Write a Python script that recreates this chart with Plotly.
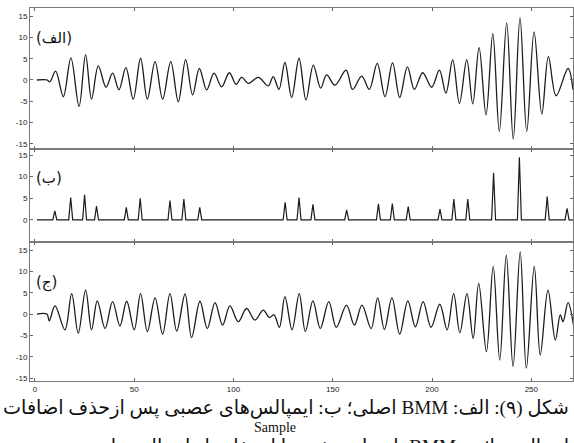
import plotly.graph_objects as go

# ---------------- data ----------------
# panel (الف): original BMM signal, extreme points (sample, value)
orig_x = [1, 6, 7.5, 10.4, 14.3, 18.1, 22.2, 25.5, 28.5, 31.9, 35.8, 39.1, 42.3, 45.8,
          49.5, 53.2, 56.6, 60.5, 64.3, 68.4, 72.2, 75.9, 79.4, 82.8, 86.5, 90.2, 94.0,
          97.9, 101.3, 104.1, 107.5, 112.5, 117.5, 120.0, 122.9, 125.9, 129.3, 133.0,
          136.5, 140.2, 143.9, 146.9, 151.1, 156.7, 160.0, 164.6, 168.4, 172.4, 176.3,
          180.1, 183.7, 187.6, 191.1, 195.3, 199.8, 203.7, 207.0, 210.4, 213.8, 217.5,
          220.5, 223.7, 227.2, 230.6, 233.9, 237.6, 240.9, 244.3, 247.7, 251.4, 255.3,
          258.6, 262.5, 268.5, 271.0]
orig_y = [0, 0, -0.4, 2.1, -3.9, 5.2, -6.2, 5.9, -4.5, 3.3, -1.7, 1.6, -2.3, 2.9,
          -4.5, 5.1, -4.5, 4.3, -4.5, 4.3, -5.1, 4.8, -3.5, 2.7, -2.3, 1.6, -1.6,
          1.7, -1.0, 0.6, -0.8, 0.6, -1.4, 0.8, -2.2, 4.1, -4.1, 5.1,
          -4.7, 3.5, -1.9, 1.2, -1.2, 2.3, -2.2, 0.9, -2.2, 3.9, -3.9,
          4.0, -4.1, 3.1, -2.2, 1.7, -1.7, 2.3, -3.1, 4.7, -5.5, 4.8,
          -5.6, 7.6, -8.2, 10.9, -12.1, 13.4, -13.9, 14.6, -12.1, 11.3, -8.0,
          5.5, -3.7, 2.7, -2.3]

# panel (ب): neural impulses (sample index, height)
spike_pos = [10, 18, 25, 31, 46, 53, 68, 75, 83, 126, 133, 140, 157, 173, 180, 188,
             204, 211, 218, 231, 244, 258, 268]
spike_val = [2.1, 5.2, 5.8, 3.2, 2.9, 5.0, 4.5, 4.8, 2.9, 4.1, 5.2, 3.6, 2.3, 3.7, 3.8,
             3.1, 2.5, 4.8, 4.8, 10.9, 14.5, 5.4, 2.7]
n_samples = 271

# panel (ج): reconstructed BMM, extreme points (sample, value)
rec_x = [1, 6, 7.2, 10.1, 15.1, 18.5, 21.8, 25.5, 28.5, 31.4, 35.3, 39.1, 42.8, 46.2,
         50.0, 53.2, 56.6, 60.5, 64.3, 68.0, 71.4, 75.6, 78.9, 83.1, 86.8, 90.7, 94.5,
         98.2, 102.4, 106.6, 110.8, 115.0, 118.0, 120.4, 123.1, 125.9, 129.5, 133.1,
         136.2, 140.0, 143.7, 148.0, 151.8, 156.9, 160.9, 164.7, 169.3, 172.6, 176.0,
         179.8, 183.7, 187.8, 191.6, 195.5, 199.5, 203.9, 207.6, 210.9, 214.0, 217.6,
         220.7, 223.5, 227.4, 230.8, 234.1, 237.4, 240.8, 244.4, 247.5, 251.5, 254.5,
         258.4, 262.1, 264.6, 266.0, 268.5, 271.4]
rec_y = [0, 0, -1.6, 1.9, -3.7, 4.8, -4.5, 5.6, -3.7, 3.1, -3.4, 2.9, -2.8, 3.0,
         -3.7, 4.8, -4.1, 3.8, -4.7, 4.8, -4.0, 4.7, -5.5, 3.0, -3.4, 2.7, -2.6,
         1.9, -1.8, 1.3, -1.4, 0.9, -0.8, -0.2, -3.1, 4.1, -3.7, 4.8,
         -4.1, 3.1, -3.4, 2.9, -3.1, 2.1, -2.6, 2.1, -3.4, 3.8, -3.6,
         3.8, -4.7, 3.1, -3.0, 2.9, -3.1, 2.3, -3.7, 4.8, -4.4, 4.8,
         -5.7, 7.2, -8.8, 11.2, -10.8, 13.8, -12.3, 14.6, -12.7, 11.2, -9.6,
         5.6, -6.1, -0.2, -1.8, 2.7, -3.0]

y_ticks = [-15, -10, -5, 0, 5, 10, 15]
y_ticktext = ["-15", "-10", "-5", "0", "5", "10", "15"]
y2_ticks = [0, 5, 10, 15]
y2_ticktext = ["0", "5", "10", "15"]
x_ticks = [0, 50, 100, 150, 200, 250]
x_ticktext = ["0", "50", "100", "150", "200", "250"]

panel_labels = ["(الف)", "(ب)", "(ج)"]
x_title = "Sample"
caption_1 = "شکل (۹): الف: BMM اصلی؛ ب: ایمپالس‌های عصبی پس ازحذف اضافات"
caption_2 = "ایمپالس‌ها؛ ج: BMM بازسازی شده با استفاده از ایمپالس‌های عصبی"

RLE, PDF = "\u202B", "\u202C"  # right-to-left embedding for Persian captions

# ---------------- build ----------------
n = list(range(1, n_samples + 1))
impulses = [0.0] * n_samples
for p, v in zip(spike_pos, spike_val):
    impulses[p - 1] = v

line_col = "#1c1c1c"
fig = go.Figure()
fig.add_trace(go.Scatter(x=orig_x, y=orig_y, mode="lines", xaxis="x", yaxis="y",
                         line=dict(color=line_col, width=1.3, shape="spline", smoothing=1.0),
                         showlegend=False, hoverinfo="skip"))
fig.add_trace(go.Scatter(x=n, y=impulses, mode="lines", xaxis="x2", yaxis="y2",
                         line=dict(color=line_col, width=1.2),
                         showlegend=False, hoverinfo="skip"))
fig.add_trace(go.Scatter(x=rec_x, y=rec_y, mode="lines", xaxis="x3", yaxis="y3",
                         line=dict(color=line_col, width=1.3, shape="spline", smoothing=1.0),
                         showlegend=False, hoverinfo="skip"))

axis_common = dict(showline=True, linecolor="#7a7a7a", linewidth=1, mirror="ticks",
                   ticks="inside", ticklen=3, tickcolor="#666", tickwidth=1,
                   showgrid=False, zeroline=False,
                   tickfont=dict(family="Liberation Sans, Arial", size=8, color="#222"))

xr = [-2.5, 271]
fig.update_layout(
    width=574, height=443,
    margin=dict(l=30, r=1, t=8, b=62),
    paper_bgcolor="white", plot_bgcolor="white",
    xaxis=dict(domain=[0, 1], range=xr, anchor="y", tickvals=x_ticks,
               showticklabels=False, **axis_common),
    xaxis2=dict(domain=[0, 1], range=xr, anchor="y2", tickvals=x_ticks,
                showticklabels=False, **axis_common),
    xaxis3=dict(domain=[0, 1], range=xr, anchor="y3", tickvals=x_ticks,
                ticktext=x_ticktext, showticklabels=True, **axis_common),
    yaxis=dict(domain=[0.622, 1], range=[-16.2, 16.9], anchor="x",
               tickvals=y_ticks, ticktext=y_ticktext, **axis_common),
    yaxis2=dict(domain=[0.3727, 0.622], range=[-5.1, 16.4], anchor="x2",
                tickvals=y2_ticks, ticktext=y2_ticktext, **axis_common),
    yaxis3=dict(domain=[0, 0.3727], range=[-15.7, 16.9], anchor="x3",
                tickvals=y_ticks, ticktext=y_ticktext, **axis_common),
)

label_pos = [("x", "y", 0.787), ("x2", "y2", 0.688), ("x3", "y3", 0.712)]
for txt, (xa, ya, yy) in zip(panel_labels, label_pos):
    fig.add_annotation(text=txt, xref=xa + " domain", yref=ya + " domain",
                       x=0.008, y=yy, xanchor="left", yanchor="middle", showarrow=False,
                       font=dict(family="DejaVu Sans", size=15, color="#111"))

fig.add_annotation(text=x_title, xref="paper", yref="paper", x=0.451, y=-0.124,
                   xanchor="center", yanchor="middle", showarrow=False,
                   font=dict(family="Liberation Serif", size=14, color="#111"))
fig.add_annotation(text=RLE + caption_1 + PDF, xref="paper", yref="paper", x=0.996, y=-0.072,
                   xanchor="right", yanchor="middle", showarrow=False,
                   font=dict(family="Liberation Serif, DejaVu Sans", size=19.2, color="#111"))
fig.add_annotation(text=RLE + caption_2 + PDF, xref="paper", yref="paper", x=0.996, y=-0.178,
                   xanchor="right", yanchor="middle", showarrow=False,
                   font=dict(family="Liberation Serif, DejaVu Sans", size=19.2, color="#111"))

fig.write_html("out.html")
